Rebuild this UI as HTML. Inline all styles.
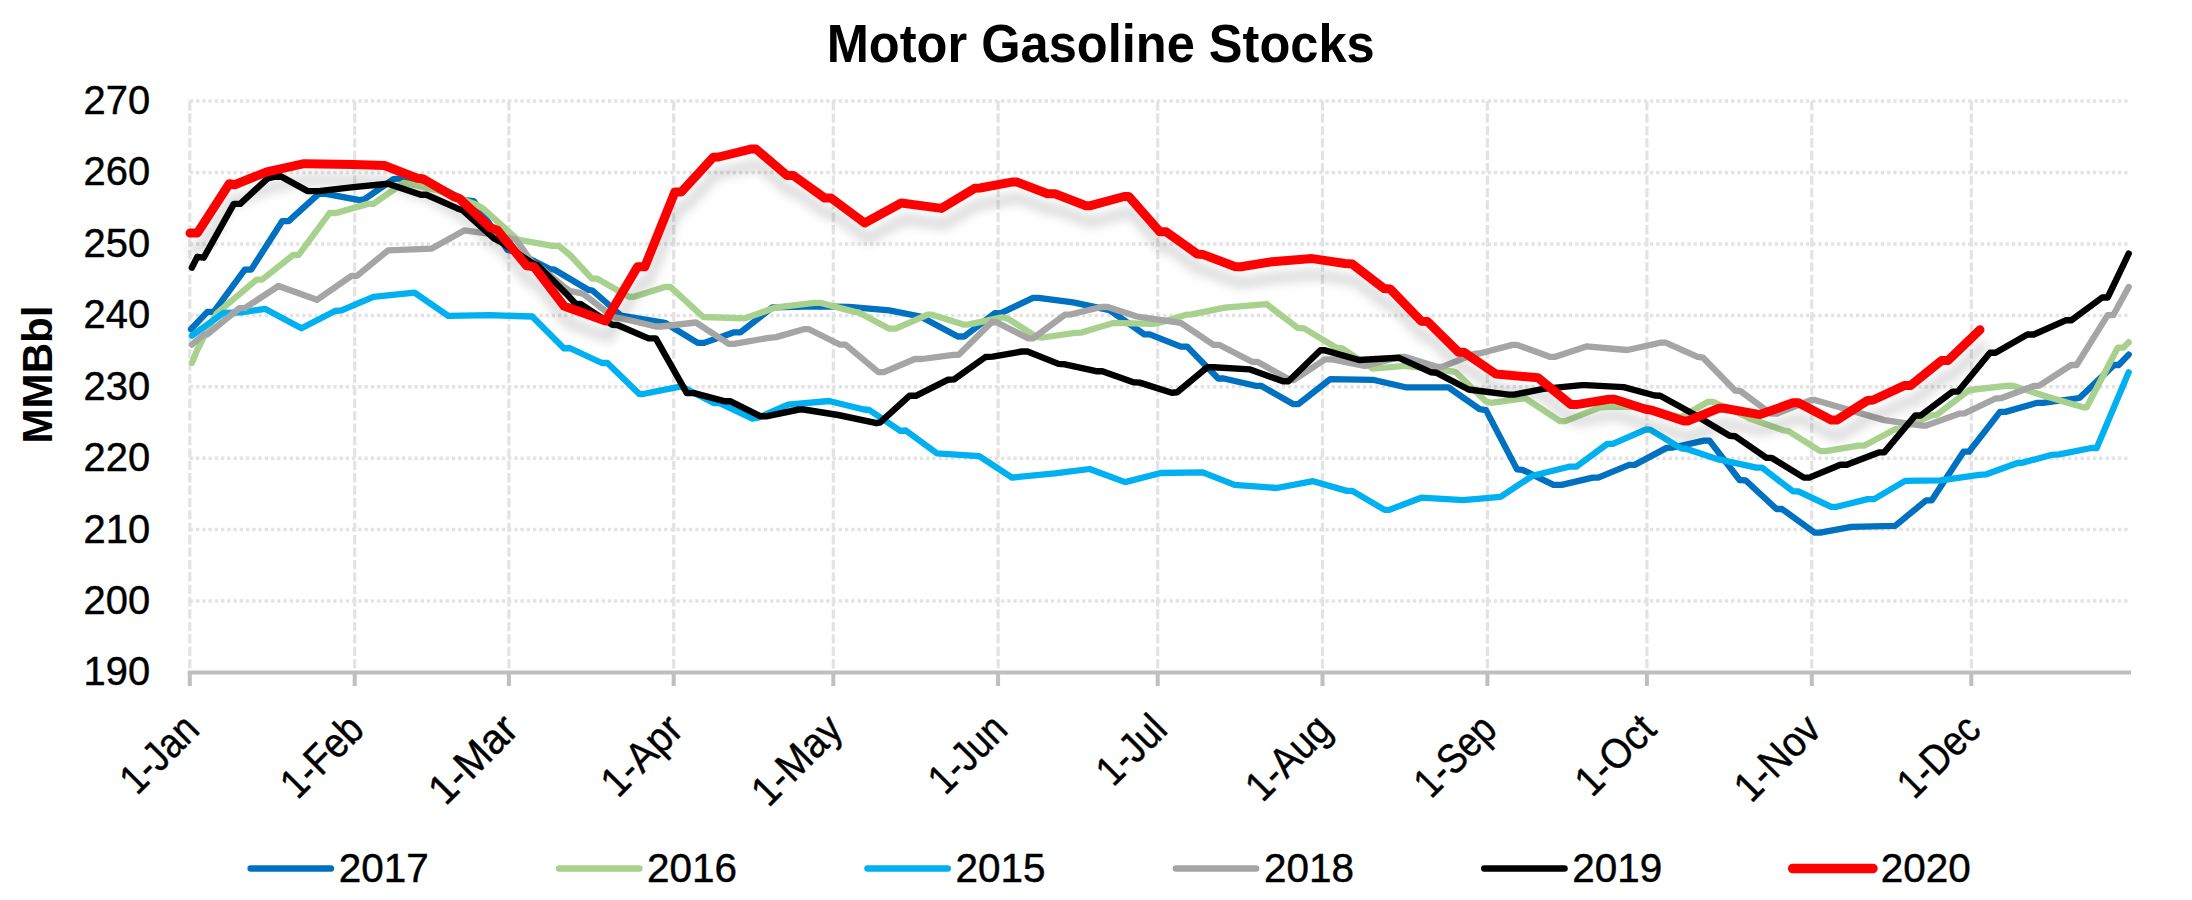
<!DOCTYPE html>
<html lang="en"><head><meta charset="utf-8"><title>Motor Gasoline Stocks</title>
<style>html,body{margin:0;padding:0;background:#fff}body{width:2192px;height:900px;overflow:hidden}svg{display:block}text{font-family:"Liberation Sans",Arial,sans-serif;fill:#000;stroke:#000;stroke-width:0.45px}</style></head><body>
<svg width="2192" height="900" viewBox="0 0 2192 900">
<defs><filter id="sh" x="-5%" y="-20%" width="110%" height="150%" filterUnits="objectBoundingBox"><feGaussianBlur in="SourceAlpha" stdDeviation="5.5"/><feOffset dx="2.5" dy="15.5" result="b"/><feFlood flood-color="#000" flood-opacity="0.17"/><feComposite in2="b" operator="in"/></filter></defs>
<rect width="2192" height="900" fill="#fff"/>
<g stroke="#e3e3e3" fill="none">
<line x1="189.8" x2="2129.0" y1="601.1" y2="601.1" stroke-width="3.5" stroke-dasharray="3.3 2.94"/>
<line x1="189.8" x2="2129.0" y1="529.6" y2="529.6" stroke-width="3.5" stroke-dasharray="3.3 2.94"/>
<line x1="189.8" x2="2129.0" y1="458.2" y2="458.2" stroke-width="3.5" stroke-dasharray="3.3 2.94"/>
<line x1="189.8" x2="2129.0" y1="386.8" y2="386.8" stroke-width="3.5" stroke-dasharray="3.3 2.94"/>
<line x1="189.8" x2="2129.0" y1="315.4" y2="315.4" stroke-width="3.5" stroke-dasharray="3.3 2.94"/>
<line x1="189.8" x2="2129.0" y1="243.9" y2="243.9" stroke-width="3.5" stroke-dasharray="3.3 2.94"/>
<line x1="189.8" x2="2129.0" y1="172.5" y2="172.5" stroke-width="3.5" stroke-dasharray="3.3 2.94"/>
<line x1="189.8" x2="2129.0" y1="101.1" y2="101.1" stroke-width="3.5" stroke-dasharray="3.3 2.94"/>
<line x1="189.8" x2="189.8" y1="101.1" y2="672.5" stroke-width="3.2" stroke-dasharray="9.3 3.1"/>
<line x1="354.7" x2="354.7" y1="101.1" y2="672.5" stroke-width="3.2" stroke-dasharray="9.3 3.1"/>
<line x1="508.9" x2="508.9" y1="101.1" y2="672.5" stroke-width="3.2" stroke-dasharray="9.3 3.1"/>
<line x1="673.7" x2="673.7" y1="101.1" y2="672.5" stroke-width="3.2" stroke-dasharray="9.3 3.1"/>
<line x1="833.3" x2="833.3" y1="101.1" y2="672.5" stroke-width="3.2" stroke-dasharray="9.3 3.1"/>
<line x1="998.1" x2="998.1" y1="101.1" y2="672.5" stroke-width="3.2" stroke-dasharray="9.3 3.1"/>
<line x1="1157.7" x2="1157.7" y1="101.1" y2="672.5" stroke-width="3.2" stroke-dasharray="9.3 3.1"/>
<line x1="1322.5" x2="1322.5" y1="101.1" y2="672.5" stroke-width="3.2" stroke-dasharray="9.3 3.1"/>
<line x1="1487.4" x2="1487.4" y1="101.1" y2="672.5" stroke-width="3.2" stroke-dasharray="9.3 3.1"/>
<line x1="1646.9" x2="1646.9" y1="101.1" y2="672.5" stroke-width="3.2" stroke-dasharray="9.3 3.1"/>
<line x1="1811.8" x2="1811.8" y1="101.1" y2="672.5" stroke-width="3.2" stroke-dasharray="9.3 3.1"/>
<line x1="1971.3" x2="1971.3" y1="101.1" y2="672.5" stroke-width="3.2" stroke-dasharray="9.3 3.1"/>
</g>
<g stroke="#bfbfbf" stroke-width="4" fill="none"><line x1="187.8" x2="2131.0" y1="672.5" y2="672.5"/>
<line x1="189.8" x2="189.8" y1="672.5" y2="686.0"/>
<line x1="354.7" x2="354.7" y1="672.5" y2="686.0"/>
<line x1="508.9" x2="508.9" y1="672.5" y2="686.0"/>
<line x1="673.7" x2="673.7" y1="672.5" y2="686.0"/>
<line x1="833.3" x2="833.3" y1="672.5" y2="686.0"/>
<line x1="998.1" x2="998.1" y1="672.5" y2="686.0"/>
<line x1="1157.7" x2="1157.7" y1="672.5" y2="686.0"/>
<line x1="1322.5" x2="1322.5" y1="672.5" y2="686.0"/>
<line x1="1487.4" x2="1487.4" y1="672.5" y2="686.0"/>
<line x1="1646.9" x2="1646.9" y1="672.5" y2="686.0"/>
<line x1="1811.8" x2="1811.8" y1="672.5" y2="686.0"/>
<line x1="1971.3" x2="1971.3" y1="672.5" y2="686.0"/>
</g>
<polyline points="191.0,329.2 207.4,311.9 213.8,311.9 244.8,269.6 251.2,269.6 282.2,221.2 288.6,221.2 318.7,193.8 326.0,193.8 359.7,200.2 364.3,199.3 393.5,179.2 400.8,178.3 437.0,186.0 464.7,200.2 473.8,201.1 507.5,250.0 516.0,252.0 550.4,269.2 554.5,269.7 588.2,289.8 592.5,290.5 621.1,315.5 664.9,322.8 697.7,342.9 704.1,342.9 734.2,332.3 740.6,332.3 772.6,307.3 816.4,306.4 849.2,306.8 889.3,310.4 920.4,316.5 957.8,336.5 964.2,336.5 994.7,313.2 1001.0,313.2 1033.0,297.9 1038.5,297.9 1073.1,302.3 1109.6,310.1 1144.3,334.4 1149.8,334.4 1180.8,346.6 1187.2,346.6 1218.2,378.5 1223.7,378.5 1255.6,385.8 1261.1,385.8 1293.0,404.1 1298.5,404.1 1330.4,379.1 1372.8,379.8 1405.7,387.3 1448.5,387.3 1479.6,409.2 1486.0,410.1 1517.0,469.4 1522.4,469.8 1553.5,484.9 1561.7,484.9 1592.7,477.6 1598.2,477.6 1629.2,464.9 1634.7,464.9 1666.6,447.9 1673.0,447.5 1704.0,440.6 1709.5,440.6 1739.6,480.0 1745.5,480.3 1776.5,509.0 1782.0,509.0 1814.8,532.7 1820.3,532.7 1851.3,526.9 1895.1,525.9 1926.1,500.4 1931.6,500.4 1963.5,451.7 1969.0,451.7 2000.0,411.9 2005.5,411.9 2037.4,402.8 2042.9,402.8 2079.4,398.0 2114.1,365.0 2118.7,365.0 2128.7,354.6" fill="none" stroke="#0070c0" stroke-width="6.3" stroke-linejoin="round" stroke-linecap="round"/>
<polyline points="191.9,363.0 197.0,350.5 203.7,337.4 216.5,313.7 256.6,279.6 262.1,279.6 293.1,255.0 298.6,255.0 329.6,213.0 336.0,213.0 368.0,203.9 373.4,203.9 403.5,182.9 417.0,185.6 440.0,191.0 477.0,205.0 482.9,208.4 517.6,239.5 552.3,245.8 558.6,245.8 570.0,255.0 591.9,278.7 597.4,278.7 628.4,296.5 633.9,296.8 664.9,286.9 670.4,286.9 703.2,317.0 745.2,318.3 776.2,307.3 814.5,302.8 820.0,302.8 854.7,311.9 858.4,312.3 889.3,328.7 895.7,328.7 927.7,314.6 931.3,314.6 964.2,324.7 969.0,324.3 1002.0,317.4 1007.4,318.3 1036.6,336.9 1043.0,337.5 1075.0,332.9 1081.4,332.6 1113.3,322.9 1151.6,323.8 1157.1,323.4 1186.3,314.7 1191.8,314.3 1224.6,307.7 1266.6,304.1 1297.6,327.8 1304.0,328.4 1335.9,347.5 1342.3,348.4 1372.8,368.6 1404.7,365.9 1452.2,371.4 1455.8,372.3 1486.0,401.5 1491.4,402.8 1525.2,398.2 1559.9,421.1 1565.3,421.1 1600.0,407.4 1612.8,406.5 1645.6,407.4 1680.3,417.4 1707.7,401.9 1713.1,401.9 1744.2,415.6 1749.0,418.3 1783.8,430.5 1788.4,431.1 1820.3,451.1 1825.8,451.1 1858.6,445.7 1864.1,445.7 1895.1,429.2 1900.6,428.3 1931.6,415.5 1937.1,414.6 1968.1,390.9 1970.0,390.0 2008.2,385.6 2013.7,386.0 2046.6,396.6 2083.0,407.3 2086.7,407.3 2117.7,347.7 2123.2,347.7 2128.7,342.2" fill="none" stroke="#a9d18e" stroke-width="6.3" stroke-linejoin="round" stroke-linecap="round"/>
<polyline points="191.9,335.6 223.8,312.8 242.0,312.3 264.9,308.8 301.4,328.3 335.1,311.0 341.5,310.4 373.4,296.9 414.5,292.7 448.2,315.9 490.2,315.2 532.2,316.5 564.1,348.4 569.6,348.0 601.9,363.0 607.4,363.0 639.3,394.0 643.0,394.0 681.3,386.4 714.2,403.1 719.7,403.1 752.5,418.6 758.0,417.7 788.1,404.6 829.1,401.0 863.8,409.5 869.3,410.0 900.3,430.9 905.8,430.5 936.8,453.3 979.2,456.2 1012.0,477.6 1054.9,473.4 1089.6,469.0 1125.1,482.1 1160.7,473.0 1202.7,472.4 1234.6,484.9 1276.6,488.0 1313.1,481.2 1346.9,490.9 1352.3,490.9 1384.7,509.9 1389.2,509.9 1421.2,497.7 1463.1,500.1 1500.5,496.8 1532.5,475.8 1569.0,466.7 1576.3,466.7 1607.3,443.9 1612.8,443.9 1645.6,429.6 1650.2,429.6 1681.2,448.4 1686.7,449.0 1718.6,459.4 1756.4,467.6 1761.9,467.6 1792.9,491.3 1798.4,491.3 1831.2,506.8 1836.7,506.8 1867.7,499.1 1874.1,499.1 1905.1,480.9 1940.7,480.3 1979.0,474.9 1986.4,474.3 2017.4,463.0 2022.8,462.6 2052.0,454.8 2059.3,454.4 2091.3,448.0 2096.7,448.0 2128.7,372.3" fill="none" stroke="#00b0f0" stroke-width="6.3" stroke-linejoin="round" stroke-linecap="round"/>
<polyline points="191.9,344.7 203.7,334.7 207.4,334.3 239.3,308.2 244.8,308.2 278.5,286.0 316.9,299.8 351.5,275.9 357.0,275.9 388.0,250.4 431.8,248.6 464.7,230.3 490.2,234.0 497.0,235.5 516.0,239.5 532.0,262.0 538.0,265.5 563.0,286.0 570.0,291.0 582.8,293.6 613.8,317.4 621.1,318.3 655.8,326.5 661.2,326.5 695.9,322.5 728.8,343.8 734.2,343.8 768.9,337.8 776.2,337.1 803.6,329.2 809.0,329.2 840.1,344.7 845.5,344.7 878.4,372.1 883.9,372.1 914.9,359.0 922.2,359.0 953.2,354.8 958.7,354.8 991.9,322.0 996.5,322.3 1028.4,338.4 1033.0,338.4 1064.9,314.7 1071.3,314.3 1101.4,307.0 1107.8,307.0 1137.0,316.5 1142.5,317.4 1180.8,322.9 1213.6,344.8 1219.1,344.8 1252.0,361.8 1257.4,361.8 1290.3,380.0 1294.0,380.0 1325.0,359.4 1332.3,359.4 1364.6,365.9 1401.1,356.8 1404.7,356.8 1436.7,366.8 1442.2,366.8 1474.1,354.0 1479.6,353.5 1512.4,344.9 1517.0,344.9 1549.8,356.8 1555.3,356.8 1586.3,346.4 1627.4,350.0 1660.2,342.7 1665.7,342.7 1697.6,356.8 1703.1,357.7 1735.0,390.5 1740.5,391.1 1771.0,413.7 1776.5,413.7 1811.2,400.0 1814.8,400.0 1884.2,420.1 1922.5,425.6 1926.1,425.6 1959.0,413.7 1964.5,413.4 1995.5,398.5 2001.0,398.2 2033.8,386.0 2039.3,385.6 2071.2,365.0 2076.6,365.0 2107.7,315.2 2113.2,315.2 2128.7,287.1" fill="none" stroke="#a5a5a5" stroke-width="6.3" stroke-linejoin="round" stroke-linecap="round"/>
<polyline points="191.9,267.7 197.3,256.8 203.7,257.7 233.8,203.9 240.2,203.9 267.6,178.3 279.5,175.6 307.7,191.1 318.7,191.1 353.4,187.1 388.0,183.8 420.9,194.7 426.4,194.7 457.4,208.4 462.8,210.3 493.9,238.5 501.2,242.2 532.0,263.0 538.0,265.5 568.0,295.5 575.5,303.7 580.9,304.2 612.0,324.7 617.4,325.0 648.5,338.4 655.8,338.4 686.8,393.1 694.1,393.1 725.1,401.3 730.6,401.3 760.7,416.3 766.2,416.3 799.0,409.5 803.6,409.5 838.2,415.0 876.6,423.2 880.2,422.3 909.4,395.8 915.8,395.8 947.7,379.8 954.1,379.4 985.5,357.0 992.8,356.6 1022.0,351.5 1027.5,351.5 1058.5,363.9 1064.9,364.3 1096.0,371.2 1102.3,371.2 1133.4,382.2 1139.7,382.6 1171.7,392.8 1177.2,392.2 1207.3,367.2 1213.6,367.2 1250.1,369.4 1283.0,381.3 1288.5,381.3 1320.4,350.3 1325.0,350.3 1359.0,360.0 1398.4,357.7 1431.2,372.3 1436.7,372.8 1468.6,389.5 1508.8,394.6 1514.2,394.6 1543.4,388.9 1581.8,385.1 1585.4,385.1 1623.7,387.1 1654.7,395.5 1660.2,395.8 1691.2,412.8 1729.6,435.7 1735.0,436.2 1766.5,457.9 1771.9,457.9 1803.9,477.6 1809.3,477.6 1840.4,464.8 1846.8,464.8 1878.7,452.4 1884.2,452.4 1915.2,415.5 1920.7,415.5 1952.6,391.6 1958.1,391.5 1990.0,352.8 1995.5,352.8 2027.4,334.5 2033.8,334.5 2065.7,320.3 2071.2,320.3 2102.2,297.5 2107.7,297.5 2128.7,253.7" fill="none" stroke="#000000" stroke-width="6.4" stroke-linejoin="round" stroke-linecap="round"/>
<polyline points="190.0,233.1 197.3,233.1 229.3,183.8 234.7,184.7 266.7,171.9 304.1,163.7 353.4,164.6 384.4,165.5 417.2,178.3 422.7,178.7 453.7,196.6 459.2,198.4 490.2,227.6 497.5,230.3 526.7,265.9 534.0,266.8 564.0,306.0 570.0,308.2 605.6,321.0 637.5,266.8 644.8,266.8 674.9,192.0 681.3,192.0 713.2,157.3 718.7,157.0 750.7,149.1 756.1,149.1 787.2,175.6 793.5,175.6 824.6,198.0 831.0,198.0 864.7,223.0 901.2,203.0 941.4,208.4 974.6,188.3 980.0,188.0 1012.9,181.9 1016.6,181.9 1047.6,193.8 1054.9,193.8 1085.9,205.7 1090.5,205.7 1124.2,196.5 1128.8,196.5 1159.8,231.8 1166.2,231.8 1197.2,254.0 1202.7,254.4 1235.5,266.8 1241.0,266.8 1272.0,261.7 1312.2,258.6 1345.0,263.5 1352.3,264.1 1383.8,288.4 1390.1,288.9 1421.2,321.2 1427.6,321.6 1458.6,352.2 1464.0,352.2 1496.0,374.1 1538.0,377.8 1570.8,404.6 1576.3,404.6 1609.1,399.2 1614.6,399.2 1645.6,409.2 1651.1,410.1 1683.9,421.0 1687.6,421.0 1718.6,408.3 1724.1,408.3 1760.0,414.6 1792.9,402.8 1798.4,402.8 1831.2,420.1 1836.7,420.1 1867.7,400.4 1873.2,400.0 1904.2,385.6 1910.6,385.6 1941.6,360.4 1948.0,360.4 1980.0,329.8" fill="none" stroke="#000" stroke-width="9.0" stroke-linejoin="round" stroke-linecap="round" filter="url(#sh)"/>
<polyline points="190.0,233.1 197.3,233.1 229.3,183.8 234.7,184.7 266.7,171.9 304.1,163.7 353.4,164.6 384.4,165.5 417.2,178.3 422.7,178.7 453.7,196.6 459.2,198.4 490.2,227.6 497.5,230.3 526.7,265.9 534.0,266.8 564.0,306.0 570.0,308.2 605.6,321.0 637.5,266.8 644.8,266.8 674.9,192.0 681.3,192.0 713.2,157.3 718.7,157.0 750.7,149.1 756.1,149.1 787.2,175.6 793.5,175.6 824.6,198.0 831.0,198.0 864.7,223.0 901.2,203.0 941.4,208.4 974.6,188.3 980.0,188.0 1012.9,181.9 1016.6,181.9 1047.6,193.8 1054.9,193.8 1085.9,205.7 1090.5,205.7 1124.2,196.5 1128.8,196.5 1159.8,231.8 1166.2,231.8 1197.2,254.0 1202.7,254.4 1235.5,266.8 1241.0,266.8 1272.0,261.7 1312.2,258.6 1345.0,263.5 1352.3,264.1 1383.8,288.4 1390.1,288.9 1421.2,321.2 1427.6,321.6 1458.6,352.2 1464.0,352.2 1496.0,374.1 1538.0,377.8 1570.8,404.6 1576.3,404.6 1609.1,399.2 1614.6,399.2 1645.6,409.2 1651.1,410.1 1683.9,421.0 1687.6,421.0 1718.6,408.3 1724.1,408.3 1760.0,414.6 1792.9,402.8 1798.4,402.8 1831.2,420.1 1836.7,420.1 1867.7,400.4 1873.2,400.0 1904.2,385.6 1910.6,385.6 1941.6,360.4 1948.0,360.4 1980.0,329.8" fill="none" stroke="#ff0000" stroke-width="9.0" stroke-linejoin="round" stroke-linecap="round"/>
<text x="1100.7" y="61.9" style="stroke:none" text-anchor="middle" font-size="54" font-weight="bold" textLength="548" lengthAdjust="spacingAndGlyphs">Motor Gasoline Stocks</text>
<text x="150.1" y="685.4" text-anchor="end" font-size="41.2" textLength="66.6" lengthAdjust="spacingAndGlyphs">190</text>
<text x="150.1" y="614.0" text-anchor="end" font-size="41.2" textLength="66.6" lengthAdjust="spacingAndGlyphs">200</text>
<text x="150.1" y="542.5" text-anchor="end" font-size="41.2" textLength="66.6" lengthAdjust="spacingAndGlyphs">210</text>
<text x="150.1" y="471.1" text-anchor="end" font-size="41.2" textLength="66.6" lengthAdjust="spacingAndGlyphs">220</text>
<text x="150.1" y="399.7" text-anchor="end" font-size="41.2" textLength="66.6" lengthAdjust="spacingAndGlyphs">230</text>
<text x="150.1" y="328.2" text-anchor="end" font-size="41.2" textLength="66.6" lengthAdjust="spacingAndGlyphs">240</text>
<text x="150.1" y="256.8" text-anchor="end" font-size="41.2" textLength="66.6" lengthAdjust="spacingAndGlyphs">250</text>
<text x="150.1" y="185.4" text-anchor="end" font-size="41.2" textLength="66.6" lengthAdjust="spacingAndGlyphs">260</text>
<text x="150.1" y="114.0" text-anchor="end" font-size="41.2" textLength="66.6" lengthAdjust="spacingAndGlyphs">270</text>
<text transform="translate(52.4,374.5) rotate(-90)" style="stroke:none" text-anchor="middle" font-size="42.3" font-weight="bold" textLength="138" lengthAdjust="spacingAndGlyphs">MMBbl</text>
<text transform="translate(201.3,731.8) rotate(-45)" text-anchor="end" font-size="42" textLength="91" lengthAdjust="spacingAndGlyphs">1-Jan</text>
<text transform="translate(366.2,731.8) rotate(-45)" text-anchor="end" font-size="42" textLength="97" lengthAdjust="spacingAndGlyphs">1-Feb</text>
<text transform="translate(520.4,731.8) rotate(-45)" text-anchor="end" font-size="42" textLength="106" lengthAdjust="spacingAndGlyphs">1-Mar</text>
<text transform="translate(685.2,731.8) rotate(-45)" text-anchor="end" font-size="42" textLength="95" lengthAdjust="spacingAndGlyphs">1-Apr</text>
<text transform="translate(844.8,731.8) rotate(-45)" text-anchor="end" font-size="42" textLength="108" lengthAdjust="spacingAndGlyphs">1-May</text>
<text transform="translate(1009.6,731.8) rotate(-45)" text-anchor="end" font-size="42" textLength="91" lengthAdjust="spacingAndGlyphs">1-Jun</text>
<text transform="translate(1169.2,731.8) rotate(-45)" text-anchor="end" font-size="42" textLength="79" lengthAdjust="spacingAndGlyphs">1-Jul</text>
<text transform="translate(1334.0,731.8) rotate(-45)" text-anchor="end" font-size="42" textLength="101" lengthAdjust="spacingAndGlyphs">1-Aug</text>
<text transform="translate(1498.9,731.8) rotate(-45)" text-anchor="end" font-size="42" textLength="96" lengthAdjust="spacingAndGlyphs">1-Sep</text>
<text transform="translate(1658.4,731.8) rotate(-45)" text-anchor="end" font-size="42" textLength="94" lengthAdjust="spacingAndGlyphs">1-Oct</text>
<text transform="translate(1823.3,731.8) rotate(-45)" text-anchor="end" font-size="42" textLength="102" lengthAdjust="spacingAndGlyphs">1-Nov</text>
<text transform="translate(1982.8,731.8) rotate(-45)" text-anchor="end" font-size="42" textLength="97" lengthAdjust="spacingAndGlyphs">1-Dec</text>
<line x1="250.7" x2="330.9" y1="868.5" y2="868.5" stroke="#0070c0" stroke-width="6.5" stroke-linecap="round"/>
<text x="338.7" y="881.6" font-size="41.2" textLength="90" lengthAdjust="spacingAndGlyphs">2017</text>
<line x1="559.1" x2="639.3" y1="868.5" y2="868.5" stroke="#a9d18e" stroke-width="6.5" stroke-linecap="round"/>
<text x="647.1" y="881.6" font-size="41.2" textLength="90" lengthAdjust="spacingAndGlyphs">2016</text>
<line x1="867.5" x2="947.7" y1="868.5" y2="868.5" stroke="#00b0f0" stroke-width="6.5" stroke-linecap="round"/>
<text x="955.5" y="881.6" font-size="41.2" textLength="90" lengthAdjust="spacingAndGlyphs">2015</text>
<line x1="1175.9" x2="1256.1" y1="868.5" y2="868.5" stroke="#a5a5a5" stroke-width="6.5" stroke-linecap="round"/>
<text x="1263.9" y="881.6" font-size="41.2" textLength="90" lengthAdjust="spacingAndGlyphs">2018</text>
<line x1="1484.3" x2="1564.5" y1="868.5" y2="868.5" stroke="#000000" stroke-width="6.5" stroke-linecap="round"/>
<text x="1572.3" y="881.6" font-size="41.2" textLength="90" lengthAdjust="spacingAndGlyphs">2019</text>
<line x1="1792.7" x2="1872.9" y1="868.5" y2="868.5" stroke="#ff0000" stroke-width="9.6" stroke-linecap="round"/>
<text x="1880.7" y="881.6" font-size="41.2" textLength="90" lengthAdjust="spacingAndGlyphs">2020</text>
</svg></body></html>
